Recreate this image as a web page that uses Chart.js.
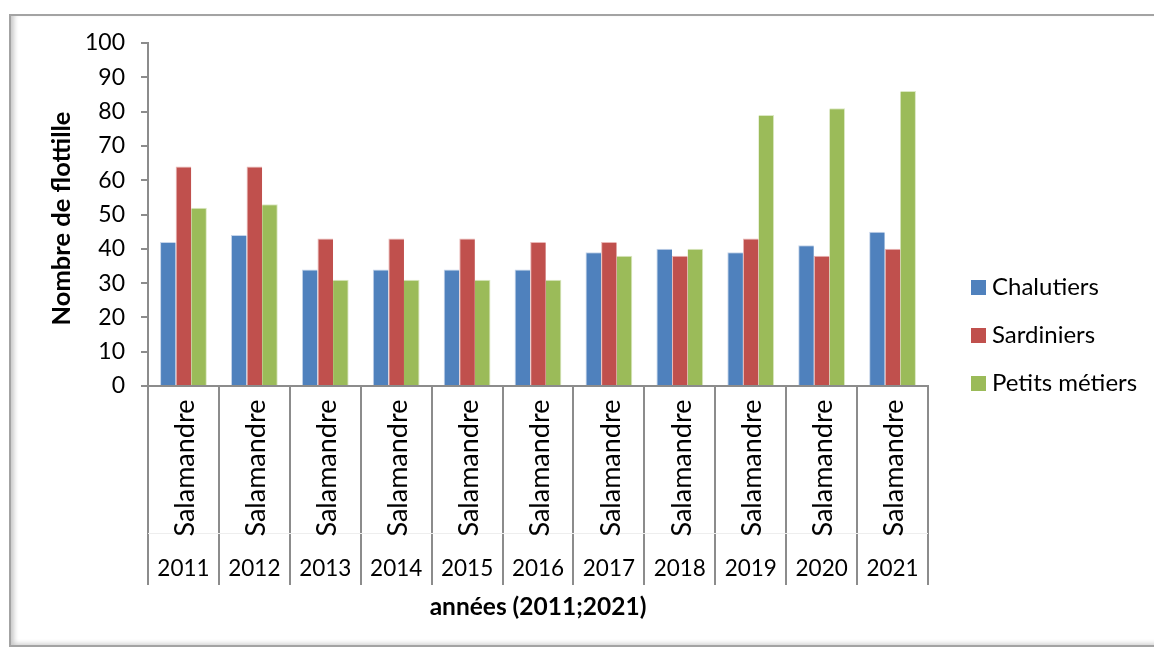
<!DOCTYPE html>
<html>
<head>
<meta charset="utf-8">
<script src="https://cdn.jsdelivr.net/npm/chart.js@4"></script>
<style>
  body { margin: 0; background: #fff; overflow: hidden; }
  #frame {
    position: absolute; left: 9px; top: 14px; width: 1160px; height: 629px;
    border: 2px solid #a3a3a3;
    box-shadow: inset 6px 0 5px -3px #c8c8c8, inset 0 -4px 4px -2px #d8d8d8;
  }
  #wrap { position: absolute; left: 0; top: 0; width: 1154px; height: 648px; }
</style>
</head>
<body>
<div id="frame"></div>
<div id="wrap"><canvas id="fleetChart" width="1154" height="648"></canvas></div>
<script>
  // flotille par année, port de Salamandre
  const years = ['2011', '2012', '2013', '2014', '2015', '2016', '2017', '2018', '2019', '2020', '2021'];
  const port = 'Salamandre';
  const chalutiers = [42, 44, 34, 34, 34, 34, 39, 40, 39, 41, 45];
  const sardiniers = [64, 64, 43, 43, 43, 42, 42, 38, 43, 38, 40];
  const petitsMetiers = [52, 53, 31, 31, 31, 31, 38, 40, 79, 81, 86];

  const font = 'Lato, Carlito, "Open Sans", sans-serif';
  const axisGrey = '#8c8c8c';

  // labels on two rows under the axis + titles + legend on the right
  const labelsPlugin = {
    id: 'labelsPlugin',
    afterDraw(chart) {
      const ctx = chart.ctx;
      const xs = chart.scales.x;
      const area = chart.chartArea;
      ctx.save();
      ctx.fillStyle = '#000';

      // faint line between the two label rows
      ctx.strokeStyle = '#eeeeee';
      ctx.lineWidth = 1;
      ctx.beginPath();
      ctx.moveTo(area.left, 533.5);
      ctx.lineTo(area.right, 533.5);
      ctx.stroke();

      ctx.textBaseline = 'middle';
      years.forEach((y, i) => {
        const x = xs.getPixelForValue(i);
        ctx.save();
        ctx.font = '27px ' + font;
        ctx.translate(x + 2, 468);
        ctx.rotate(-Math.PI / 2);
        ctx.textAlign = 'center';
        ctx.fillText(port, 0, 0);
        ctx.restore();
        ctx.font = '22.5px ' + font;
        ctx.textAlign = 'center';
        ctx.fillText(y, x, 569);
      });

      // axis titles
      ctx.font = 'bold 24.5px ' + font;
      ctx.textAlign = 'center';
      ctx.fillText('années (2011;2021)', (area.left + area.right) / 2, 607);
      ctx.save();
      ctx.font = 'bold 25.5px ' + font;
      ctx.translate(62, (area.top + area.bottom) / 2 + 4);
      ctx.rotate(-Math.PI / 2);
      ctx.fillText('Nombre de flottille', 0, 0);
      ctx.restore();

      // legend
      ctx.font = '24px ' + font;
      ctx.textAlign = 'left';
      chart.data.datasets.forEach((ds, i) => {
        const cy = 287 + i * 48;
        ctx.fillStyle = ds.backgroundColor;
        ctx.fillRect(971, cy - 7, 15, 15);
        ctx.fillStyle = '#000';
        ctx.fillText(ds.label, 992, cy);
      });
      ctx.restore();
    }
  };

  const ctx = document.getElementById('fleetChart').getContext('2d');
  new Chart(ctx, {
    type: 'bar',
    data: {
      labels: years,
      datasets: [
        { label: 'Chalutiers', data: chalutiers, backgroundColor: '#4f81bd', borderColor: '#c5d4ea', borderWidth: { top: 1, left: 1, right: 0, bottom: 0 } },
        { label: 'Sardiniers', data: sardiniers, backgroundColor: '#c0504d', borderColor: '#eab6b5', borderWidth: { top: 1, left: 1, right: 0, bottom: 0 } },
        { label: 'Petits métiers', data: petitsMetiers, backgroundColor: '#9bbb59', borderColor: '#dbe8c3', borderWidth: { top: 1, left: 0, right: 1, bottom: 0 } }
      ]
    },
    options: {
      responsive: false,
      animation: false,
      events: [],
      layout: { padding: { top: 43, right: 226, bottom: 0, left: 0 } },
      datasets: { bar: { categoryPercentage: 0.66, barPercentage: 1.0 } },
      plugins: { legend: { display: false }, tooltip: { enabled: false } },
      scales: {
        x: {
          afterFit(scale) { scale.height = 262; },
          ticks: { display: false },
          grid: { offset: true, drawOnChartArea: false, drawTicks: true, tickLength: 199, color: axisGrey, lineWidth: 2 },
          border: { color: axisGrey, width: 2 }
        },
        y: {
          min: 0, max: 100,
          afterFit(scale) { scale.width = 148; },
          ticks: { stepSize: 10, color: '#000', font: { family: font, size: 23 }, padding: 16 },
          grid: { drawOnChartArea: false, drawTicks: true, tickLength: 7, color: axisGrey, lineWidth: 2 },
          border: { color: axisGrey, width: 2 }
        }
      }
    },
    plugins: [labelsPlugin]
  });
</script>
</body>
</html>
